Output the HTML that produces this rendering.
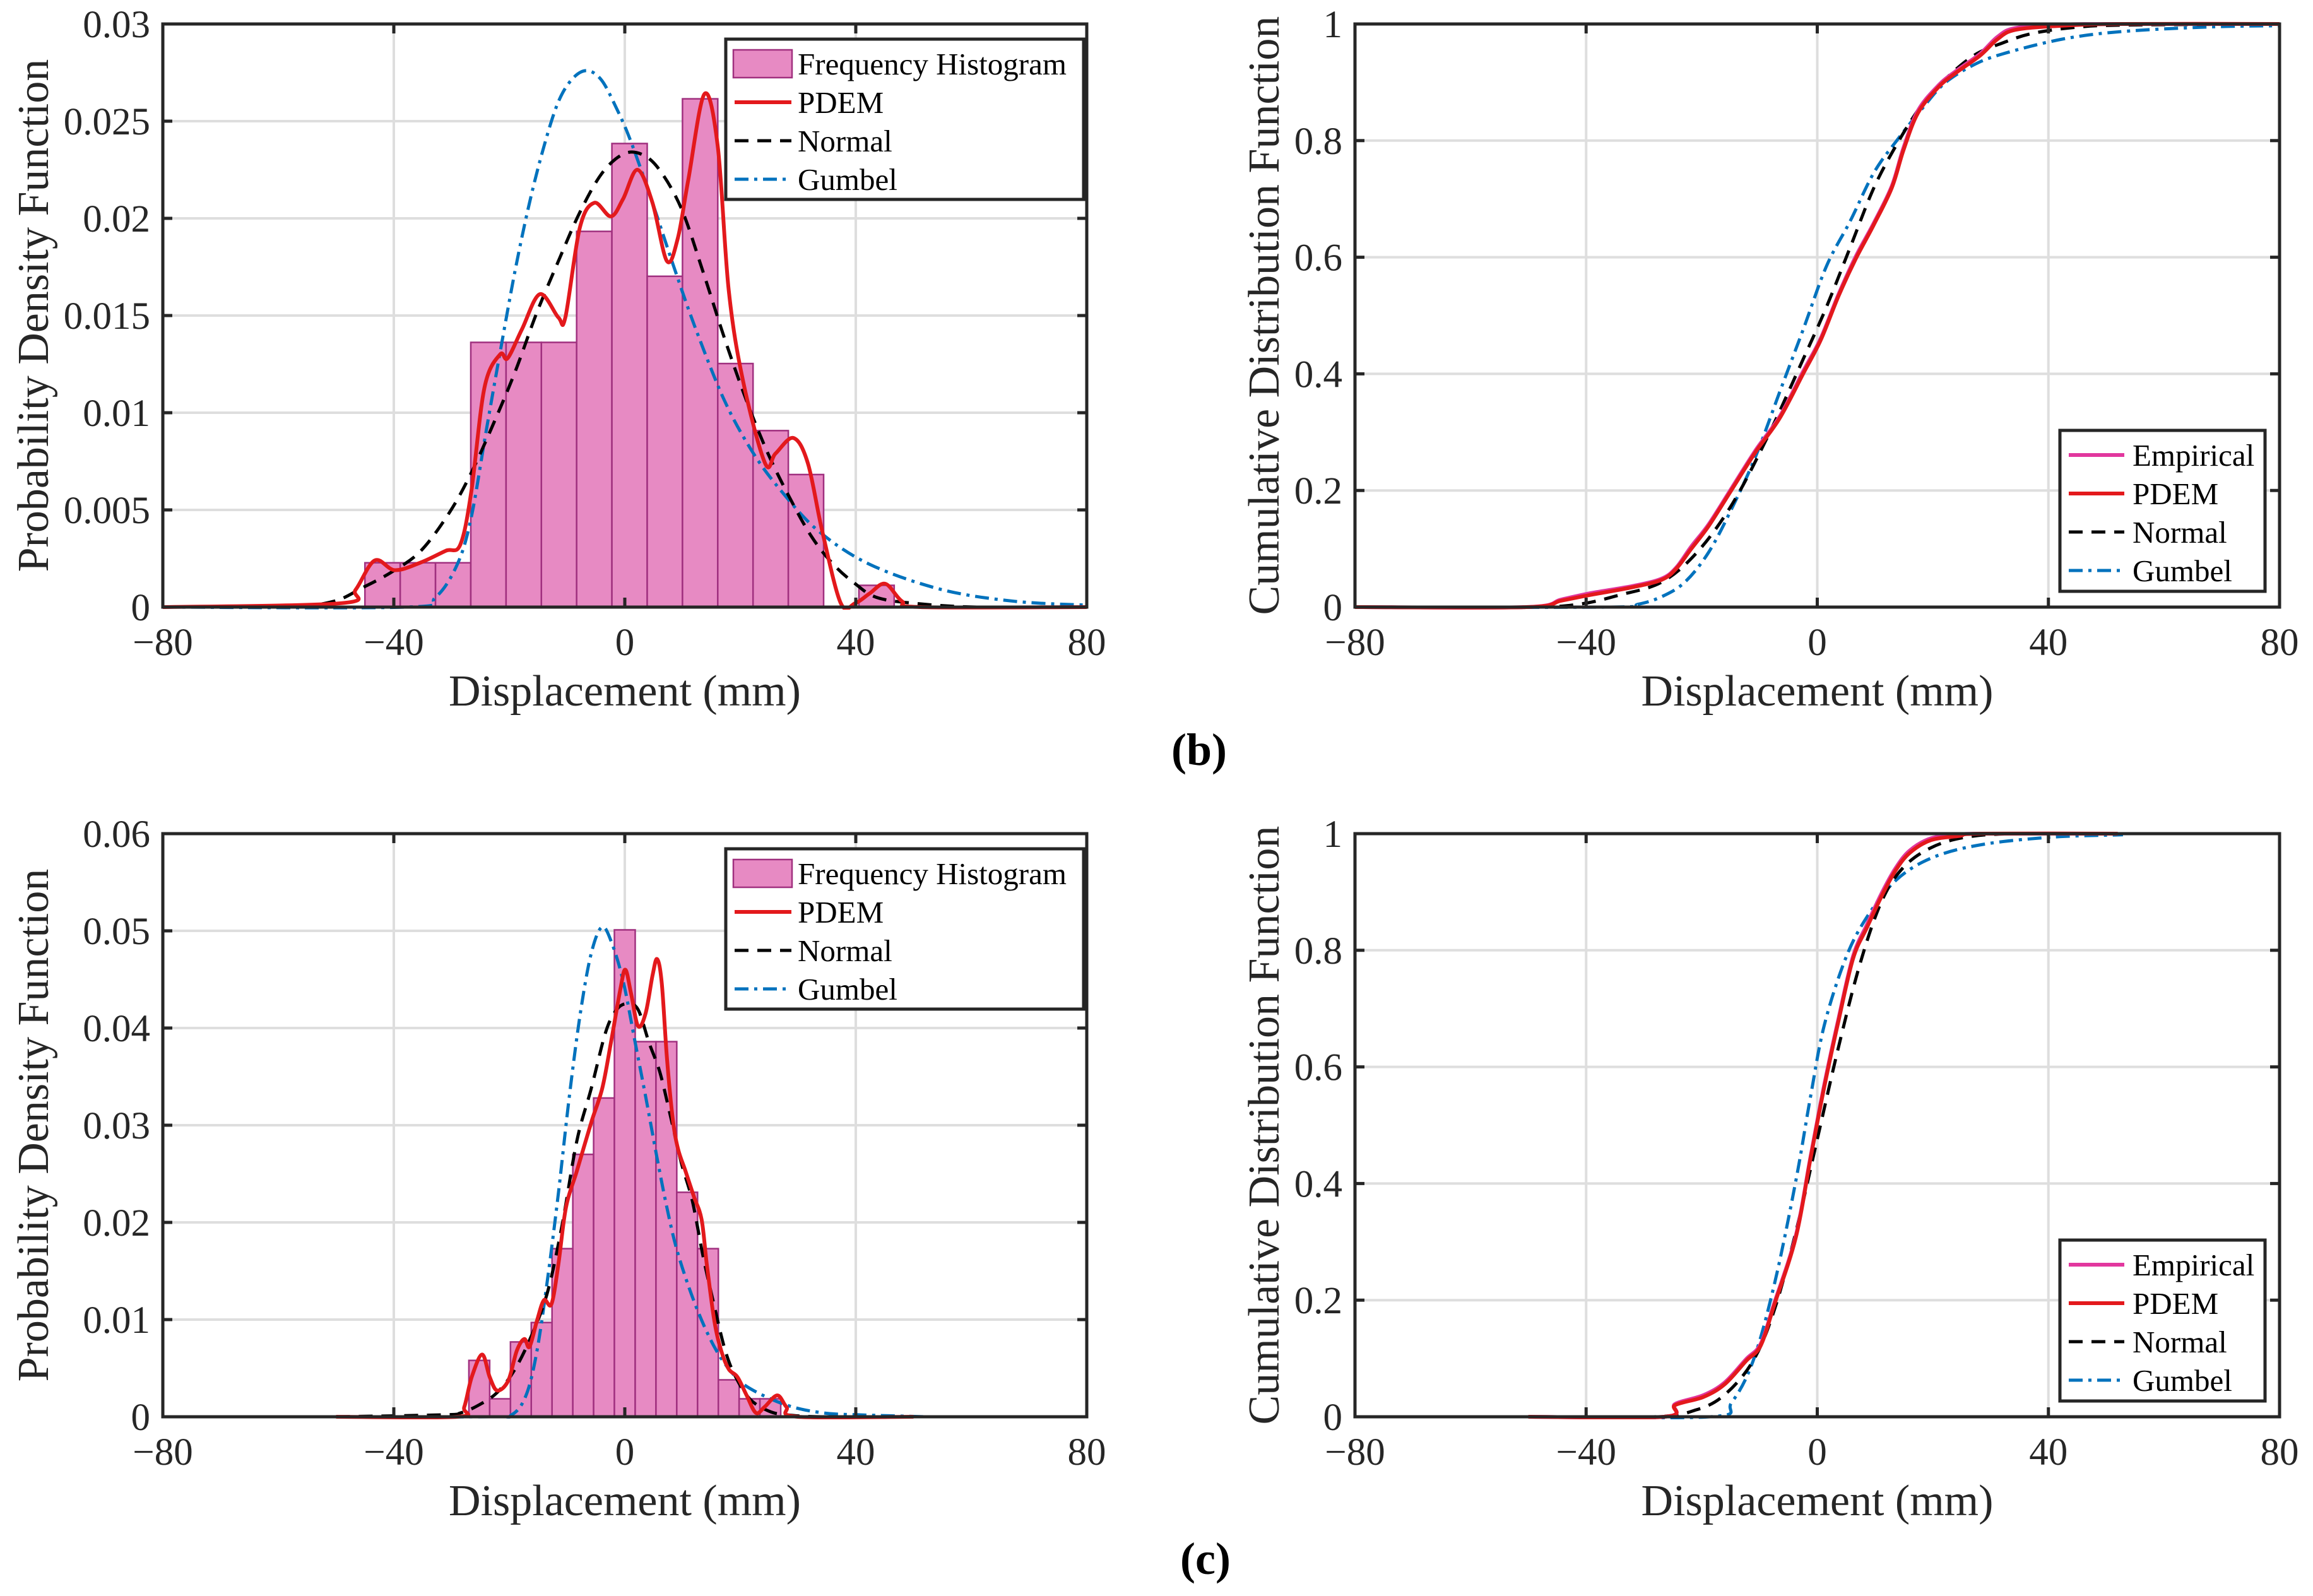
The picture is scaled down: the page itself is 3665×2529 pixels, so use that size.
<!DOCTYPE html>
<html><head><meta charset="utf-8"><style>
html,body{margin:0;padding:0;background:#fff;}
svg{display:block;font-family:"Liberation Serif","Times New Roman",serif;}
</style></head><body>
<svg id="fig" width="3665" height="2529" viewBox="0 0 3665 2529" xmlns="http://www.w3.org/2000/svg"></svg>
<script>
// ---------- data: panel (b) PDF ----------
const bBinStart = -45.0, bBinWidth = 6.11;
const bHist = [0.00228,0.00228,0.00228,0.01362,0.01362,0.01362,0.01933,0.02385,0.01702,0.02615,0.01253,0.00908,0.00682,0,0.00112];
const bPdemX = [-80,-49.1,-46.6,-43.3,-39.8,-35.3,-31,-28.5,-26.6,-24.3,-21.6,-20.3,-17.8,-14.7,-11.5,-10.3,-7.8,-5.3,-2.4,-0.3,2.2,4.8,7.3,9.2,11,13.8,16.1,18,20.5,24.3,26.1,29.2,31.7,34.2,37.4,39.9,42.4,45.1,48,51.2,80];
const bPdemY = [0,0.0002,0.0009,0.0024,0.0019,0.0023,0.0029,0.0032,0.0059,0.0113,0.0130,0.0128,0.0143,0.0161,0.0149,0.0149,0.0195,0.0208,0.0201,0.0210,0.0225,0.0208,0.0178,0.0190,0.0220,0.0264,0.0237,0.0163,0.0116,0.0074,0.0079,0.0087,0.0074,0.0039,0.0002,0.0002,0.0007,0.0012,0.0003,0,0];
const bNormX = [-80,-58,-50.4,-45.4,-40.4,-35.3,-30.3,-26.6,-22.8,-19,-15.3,-11.5,-7.8,-4,-0.3,2.9,6,9.8,13.5,17.3,21.1,24.8,28.6,32.4,36.1,39.9,43.6,49.9,61,80];
const bNormY = [0,0.00005,0.0003,0.001,0.0018,0.0029,0.0049,0.0069,0.0094,0.0121,0.0151,0.0178,0.0203,0.0223,0.0233,0.0233,0.0225,0.0205,0.0173,0.0138,0.0106,0.0079,0.0056,0.0036,0.0022,0.0012,0.0005,0.0002,0,0];
const bGumX = [-80,-37.9,-32.8,-29,-26.6,-24.1,-21.6,-19,-16.5,-14,-11.5,-9,-6.5,-4,-1.5,1,4.8,8.5,12.3,17.3,22.3,27.3,33.6,42.4,54.9,67.5,80];
const bGumY = [0,0,0.0005,0.0022,0.0046,0.0089,0.0131,0.0173,0.0208,0.0237,0.0260,0.0272,0.0276,0.0271,0.0257,0.0240,0.0208,0.0175,0.0143,0.0106,0.0079,0.0059,0.0039,0.0022,0.0009,0.0003,0.0001];
const bPdfTicksY = [0,0.005,0.01,0.015,0.02,0.025,0.03];
const bPdfTickLabels = ["0","0.005","0.01","0.015","0.02","0.025","0.03"];
// ---------- data: panel (b) CDF ----------
const bCdfPdemX = [-80,-50.4,-44.3,-39.2,-32,-26.9,-24.4,-21.8,-18.8,-14.7,-10.6,-6.5,-2.4,0.6,3.7,6.7,9.8,12.9,14.9,17.4,21,24.1,28.2,31.2,34.3,42.4,52.7,80];
const bCdfPdemY = [0,0,0.011,0.021,0.034,0.047,0.066,0.10,0.139,0.203,0.267,0.324,0.401,0.458,0.534,0.598,0.656,0.719,0.783,0.847,0.892,0.917,0.946,0.974,0.99,0.997,1,1];
const bCdfEmpY = [0,0,0.013,0.024,0.036,0.049,0.068,0.104,0.142,0.206,0.27,0.327,0.405,0.461,0.537,0.602,0.659,0.722,0.787,0.851,0.895,0.92,0.949,0.978,0.993,0.999,1,1];
const bCdfNormX = [-80,-50.4,-41.2,-34.1,-26.9,-20.8,-14.7,-8.6,-2.4,1.6,5.7,9.8,13.9,18,22,27.1,32.2,37.3,44.5,52.7,80];
const bCdfNormY = [0,0,0.005,0.021,0.043,0.094,0.177,0.292,0.426,0.515,0.617,0.719,0.796,0.86,0.904,0.946,0.968,0.984,0.994,0.998,1];
const bCdfGumX = [-80,-36.1,-31,-26.9,-22.9,-18.8,-14.7,-10.6,-6.5,-2.4,1.6,5.7,9.8,13.9,18,22,27.1,32.2,42.4,52.7,68,80];
const bCdfGumY = [0,0,0.005,0.018,0.043,0.094,0.171,0.26,0.369,0.477,0.585,0.662,0.745,0.802,0.853,0.898,0.93,0.949,0.974,0.987,0.995,0.997];
// ---------- data: panel (c) PDF ----------
const cBinStart = -27.0, cBinWidth = 3.6;
const cHist = [0.0058,0.00185,0.0077,0.0097,0.0173,0.0270,0.0328,0.0501,0.0386,0.0386,0.0231,0.0173,0.0038,0.00185,0.00185];
const cPdemX = [-50,-29,-27.8,-26.5,-24.7,-23.4,-22.1,-20.2,-18.7,-17.4,-16.5,-15.2,-14,-12.7,-11.5,-10.2,-8.3,-5.8,-3.9,-2.4,-0.8,0.1,1.1,2.3,3.6,4.8,5.6,6.4,7.3,8.3,9.2,10.5,12,13.3,14.2,15.5,16.7,18,19.5,21.1,22.7,24.2,26.4,28,29.9,50];
const cPdemY = [0,0,0.0010,0.0041,0.0064,0.0041,0.0027,0.0037,0.0068,0.0080,0.0072,0.0099,0.0120,0.0116,0.0157,0.0215,0.0253,0.0303,0.0338,0.0385,0.0439,0.0460,0.0435,0.0402,0.0415,0.0454,0.0471,0.0446,0.0369,0.0307,0.0276,0.0253,0.0226,0.0203,0.0157,0.0099,0.0068,0.0049,0.0041,0.0022,0.0004,0.0010,0.0022,0.0010,0,0];
const cNormX = [-50,-31.5,-28.4,-25.3,-22.1,-19,-15.9,-13.3,-10.8,-8.3,-5.8,-3.3,-1.4,0.4,2.3,4.2,6.1,8,9.8,11.7,13.6,15.5,17.4,19.2,21.7,24.9,28,34.3,50];
const cNormY = [0,0.0002,0.0004,0.0012,0.0025,0.0049,0.0087,0.0130,0.0199,0.0284,0.0338,0.0396,0.0419,0.0425,0.0419,0.0385,0.0354,0.0307,0.0261,0.0222,0.0164,0.0114,0.0068,0.0041,0.0018,0.0006,0.0002,0,0];
const cGumX = [-50,-23.4,-19.6,-17.1,-15.2,-13.3,-11.5,-9.6,-7.7,-5.8,-3.9,-2.1,-0.2,1.7,3.6,5.5,7.3,9.2,12.3,15.5,18.6,21.7,28,34.3,40.5,52];
const cGumY = [0,0,0.0002,0.0022,0.0068,0.0145,0.0230,0.0330,0.0415,0.0477,0.0504,0.0485,0.0446,0.0388,0.0330,0.0269,0.0215,0.0168,0.0114,0.0072,0.0045,0.0029,0.0012,0.0004,0.0002,0];
const cPdfTicksY = [0,0.01,0.02,0.03,0.04,0.05,0.06];
const cPdfTickLabels = ["0","0.01","0.02","0.03","0.04","0.05","0.06"];
// ---------- data: panel (c) CDF ----------
const cCdfPdemX = [-50,-26.5,-24.6,-19.7,-16,-12.3,-9.8,-7.4,-3.7,-1.2,1.2,3.7,6.2,8.6,11.1,13.5,16,19.7,24.6,28.3,52];
const cCdfPdemY = [0,0,0.02,0.034,0.056,0.096,0.122,0.193,0.308,0.441,0.565,0.68,0.786,0.839,0.892,0.936,0.967,0.989,0.996,1,1];
const cCdfEmpY  = [0,0,0.022,0.037,0.059,0.099,0.125,0.196,0.311,0.444,0.569,0.684,0.79,0.844,0.897,0.94,0.971,0.992,0.998,1,1];
const cCdfNormX = [-50,-28.3,-20.9,-16,-11.1,-7.4,-3.7,0,3.7,7.4,11.1,14.8,19.7,25.8,34.5,52];
const cCdfNormY = [0,0,0.012,0.038,0.096,0.184,0.317,0.476,0.635,0.777,0.883,0.941,0.976,0.994,1,1];
const cCdfGumX = [-50,-18.5,-14.8,-11.1,-7.4,-3.7,-1.2,1.2,4.9,8.6,13.5,19.7,28.3,40.6,52.9];
const cCdfGumY = [0,0,0.025,0.096,0.228,0.405,0.547,0.671,0.786,0.857,0.919,0.958,0.981,0.994,0.998];
// ---------- shared ticks ----------
const xTicks = [-80,-40,0,40,80];
const xTickLabels = ["\u221280","\u221240","0","40","80"];
const cdfTicksY = [0,0.2,0.4,0.6,0.8,1];
const cdfTickLabels = ["0","0.2","0.4","0.6","0.8","1"];

const NS = "http://www.w3.org/2000/svg";
const svg = document.getElementById("fig");
function mk(tag, attrs, parent){
  const e = document.createElementNS(NS, tag);
  for (const k in attrs) e.setAttribute(k, attrs[k]);
  (parent||svg).appendChild(e);
  return e;
}
const RED="#E3191C", BLUE="#0072BD", MAG="#E2379E";

function axes(name, L, T, W, H, ymax, yTicks, yLabels, ylabel, ylabOff){
  const g = mk("g", {});
  
  
  const sx = v => L + (v + 80) / 160 * W;
  const sy = v => T + H - v / ymax * H;
  xTicks.forEach(t => {
    const gl = mk("line", {x1:sx(t), x2:sx(t), y1:T, y2:T+H, stroke:"#dedede", "stroke-width":4}, g);
    
    
  });
  yTicks.forEach(t => {
    const gl = mk("line", {x1:L, x2:L+W, y1:sy(t), y2:sy(t), stroke:"#dedede", "stroke-width":4}, g);
    
    
  });
  const clipId = name + "-clip";
  const cp = mk("clipPath", {id:clipId}, g);
  mk("rect", {x:L, y:T-4, width:W, height:H+8}, cp);
  const plot = mk("g", {"clip-path":"url(#"+clipId+")"}, g);
  
  
  return {g, plot, sx, sy, L, T, W, H, yTicks, yLabels, ylabel, ylabOff};
}
function finishAxes(a){
  const {g, sx, sy, L, T, W, H} = a;
  xTicks.forEach((t,i) => {
    mk("line", {x1:sx(t), x2:sx(t), y1:T+H, y2:T+H-15, stroke:"#262626", "stroke-width":5}, g);
    mk("line", {x1:sx(t), x2:sx(t), y1:T, y2:T+15, stroke:"#262626", "stroke-width":5}, g);
    const tl = mk("text", {x:sx(t), y:T+H+76, "font-size":61, "text-anchor":"middle", fill:"#262626"}, g);
    tl.textContent = xTickLabels[i];
    
    
  });
  a.yTicks.forEach((t,i) => {
    mk("line", {x1:L, x2:L+15, y1:sy(t), y2:sy(t), stroke:"#262626", "stroke-width":5}, g);
    mk("line", {x1:L+W, x2:L+W-15, y1:sy(t), y2:sy(t), stroke:"#262626", "stroke-width":5}, g);
    const tl = mk("text", {x:L-20, y:sy(t)+21, "font-size":61, "text-anchor":"end", fill:"#262626"}, g);
    tl.textContent = a.yLabels[i];
    
    
  });
  const box = mk("rect", {x:L, y:T, width:W, height:H, fill:"none", stroke:"#262626", "stroke-width":5}, g);
  
  
  const xl = mk("text", {x:L+W/2, y:T+H+156, "font-size":70, "text-anchor":"middle", fill:"#262626"}, g);
  xl.textContent = "Displacement (mm)";
  
  
  const cx = L + a.ylabOff, cy = T + H/2;
  const yl = mk("text", {x:cx, y:cy + 24, "font-size":70, "text-anchor":"middle", fill:"#262626", transform:"rotate(-90 "+cx+" "+cy+")"}, g);
  yl.textContent = a.ylabel;
  
  
}
function line(a, xs, ys, style, name){
  const P = xs.map((x,i) => [a.sx(x), a.sy(ys[i])]);
  let d = "M" + P[0][0].toFixed(1) + " " + P[0][1].toFixed(1);
  for (let i = 0; i < P.length - 1; i++){
    const p0 = P[Math.max(0,i-1)], p1 = P[i], p2 = P[i+1], p3 = P[Math.min(P.length-1,i+2)];
    const c1x = p1[0] + (p2[0]-p0[0])/6, c1y = p1[1] + (p2[1]-p0[1])/6;
    const c2x = p2[0] - (p3[0]-p1[0])/6, c2y = p2[1] - (p3[1]-p1[1])/6;
    d += " C" + c1x.toFixed(1)+" "+c1y.toFixed(1)+" "+c2x.toFixed(1)+" "+c2y.toFixed(1)+" "+p2[0].toFixed(1)+" "+p2[1].toFixed(1);
  }
  const p = mk("path", Object.assign({d, fill:"none", "stroke-linejoin":"round"}, style), a.plot);
  
  
}
function hist(a, start, w, vals){
  vals.forEach((v,i) => {
    if (v <= 0) return;
    const x0 = a.sx(start + i*w), x1 = a.sx(start + (i+1)*w);
    const r = mk("rect", {x:x0, y:a.sy(v), width:x1-x0, height:a.sy(0)-a.sy(v), fill:"#E78AC3", stroke:"#A0307F", "stroke-width":2.5}, a.plot);
    
    
  });
}
const S_RED = {stroke:RED, "stroke-width":6};
const S_MAG = {stroke:MAG, "stroke-width":6};
const S_NORM = {stroke:"#000", "stroke-width":5, "stroke-dasharray":"22 14"};
const S_GUM = {stroke:BLUE, "stroke-width":5, "stroke-dasharray":"22 9 5 9"};

function legend(a, x, y, w, h, rows, text0, name){
  const g = mk("g", {}, a.g);
  
  
  mk("rect", {x, y, width:w, height:h, fill:"#fff", stroke:"#262626", "stroke-width":5}, g);
  rows.forEach((r,i) => {
    const cy = y + 39 + i*61;
    if (r.patch){
      mk("rect", {x:x+12, y:cy-22, width:93, height:44, fill:"#E78AC3", stroke:"#A0307F", "stroke-width":2.5}, g);
    } else {
      mk("line", Object.assign({x1:x+14, x2:x+14+r.len, y1:cy, y2:cy}, r.style), g);
    }
    const t = mk("text", {x:x+text0, y:cy+17, "font-size":49, fill:"#000"}, g);
    t.textContent = r.label;
    
    
  });
}
const pdfRows = [
  {patch:true, label:"Frequency Histogram"},
  {style:S_RED, len:90, label:"PDEM"},
  {style:S_NORM, len:90, label:"Normal"},
  {style:S_GUM, len:90, label:"Gumbel"}];
const cdfRows = [
  {style:S_MAG, len:88, label:"Empirical"},
  {style:S_RED, len:88, label:"PDEM"},
  {style:S_NORM, len:88, label:"Normal"},
  {style:S_GUM, len:88, label:"Gumbel"}];

// Panel b-left
let a = axes("pdf-chart-b", 258, 38, 1464, 924, 0.03, bPdfTicksY, bPdfTickLabels, "Probability Density Function", -206);
hist(a, bBinStart, bBinWidth, bHist);
line(a, bGumX, bGumY, S_GUM, "gumbel-pdf-line");
line(a, bNormX, bNormY, S_NORM, "normal-pdf-line");
line(a, bPdemX, bPdemY, S_RED, "pdem-pdf-line");
finishAxes(a);
legend(a, 1150, 62, 567, 254, pdfRows, 114, "legend-pdf-b");

// Panel b-right
a = axes("cdf-chart-b", 2147, 38, 1465, 924, 1, cdfTicksY, cdfTickLabels, "Cumulative Distribution Function", -145);
line(a, bCdfGumX, bCdfGumY, S_GUM, "gumbel-cdf-line");
line(a, bCdfNormX, bCdfNormY, S_NORM, "normal-cdf-line");
line(a, bCdfPdemX, bCdfEmpY, S_MAG, "empirical-cdf-line");
line(a, bCdfPdemX, bCdfPdemY, S_RED, "pdem-cdf-line");
finishAxes(a);
legend(a, 3264, 682, 325, 255, cdfRows, 115, "legend-cdf-b");

// Panel c-left
a = axes("pdf-chart-c", 258, 1321, 1464, 924, 0.06, cPdfTicksY, cPdfTickLabels, "Probability Density Function", -206);
hist(a, cBinStart, cBinWidth, cHist);
line(a, cGumX, cGumY, S_GUM, "gumbel-pdf-line");
line(a, cNormX, cNormY, S_NORM, "normal-pdf-line");
line(a, cPdemX, cPdemY, S_RED, "pdem-pdf-line");
finishAxes(a);
legend(a, 1150, 1345, 567, 254, pdfRows, 114, "legend-pdf-c");

// Panel c-right
a = axes("cdf-chart-c", 2147, 1321, 1465, 924, 1, cdfTicksY, cdfTickLabels, "Cumulative Distribution Function", -145);
line(a, cCdfGumX, cCdfGumY, S_GUM, "gumbel-cdf-line");
line(a, cCdfNormX, cCdfNormY, S_NORM, "normal-cdf-line");
line(a, cCdfPdemX, cCdfEmpY, S_MAG, "empirical-cdf-line");
line(a, cCdfPdemX, cCdfPdemY, S_RED, "pdem-cdf-line");
finishAxes(a);
legend(a, 3264, 1965, 325, 255, cdfRows, 115, "legend-cdf-c");

// Panel labels
let pl = mk("text", {x:1900, y:1212, "font-size":72, "font-weight":"bold", "text-anchor":"middle", fill:"#000"});
pl.textContent = "(b)";


pl = mk("text", {x:1910, y:2494, "font-size":72, "font-weight":"bold", "text-anchor":"middle", fill:"#000"});
pl.textContent = "(c)";


</script>
</body></html>
